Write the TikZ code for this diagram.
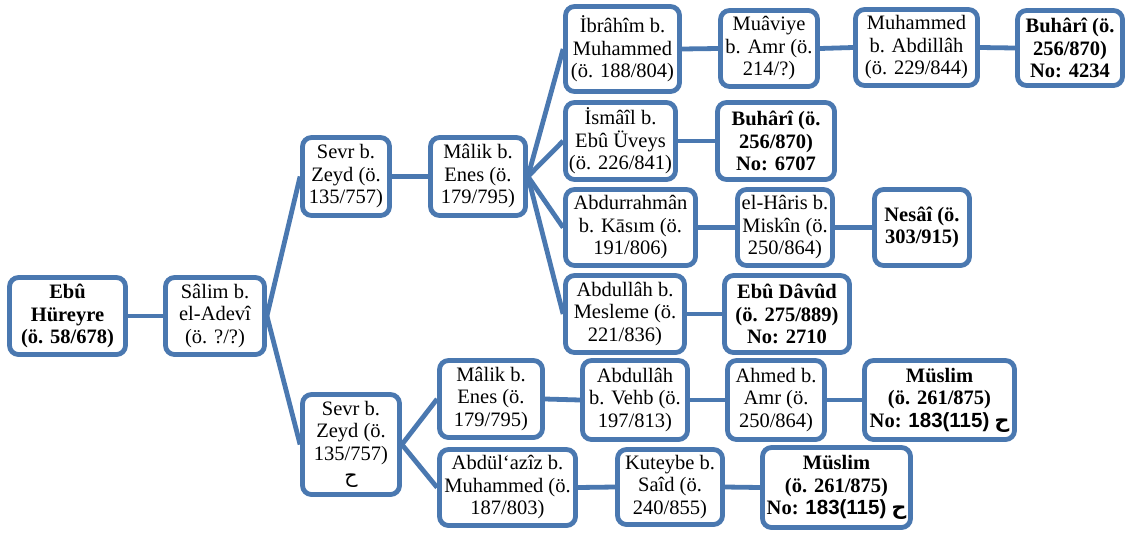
\documentclass[tikz,border=0pt]{standalone}
\usepackage{fontspec}
\setmainfont{Liberation Serif}
\newfontfamily\arsans{Liberation Sans}
\newfontfamily\arabicfont[Script=Arabic]{DejaVu Sans}
\TeXXeTstate=1
\usetikzlibrary{backgrounds}
\definecolor{bl}{RGB}{74,120,176}
\newcommand{\boxfont}{\fontsize{20.5}{22.5}\selectfont}
\newcommand{\hha}{{\arabicfont\beginR ح\endR}}
\tikzset{
  box/.style={draw=bl, line width=4.8pt, rounded corners=9pt, fill=white, align=center, inner sep=0pt, font=\boxfont},
  bbox/.style={box, font=\boxfont\bfseries},
  conn/.style={draw=bl, line width=4.8pt},
}
\begin{document}
\begin{tikzpicture}[x=1pt,y=1pt]
\useasboundingbox (0,0) rectangle (1129,-533);
% nodes
\node[bbox, minimum width=116, minimum height=77] (heb) at (67.5,-316) {Ebû\\Hüreyre\\(ö. 58/678)};
\node[box, minimum width=99, minimum height=77] (salim) at (215,-316) {Sâlim b.\\el-Adevî\\(ö. ?/?)};
\node[box, minimum width=87, minimum height=78] (sevr1) at (346,-176.5) {Sevr b.\\Zeyd (ö.\\135/757)};
\node[box, minimum width=95, minimum height=78] (malik1) at (478,-176.5) {Mâlik b.\\Enes (ö.\\179/795)};
\node[box, minimum width=114, minimum height=85] (ibr) at (622.5,-49) {İbrâhîm b.\\Muhammed\\(ö. 188/804)};
\node[box, minimum width=97, minimum height=76] (muav) at (769,-48.5) {Muâviye\\b. Amr (ö.\\214/?)};
\node[box, minimum width=122, minimum height=76] (muhabd) at (916.5,-47.5) {Muhammed\\b. Abdillâh\\(ö. 229/844)};
\node[bbox, minimum width=105, minimum height=75] (buh1) at (1070,-48) {Buhârî (ö.\\256/870)\\No: 4234};
\node[box, minimum width=110, minimum height=77] (ism) at (620.5,-141) {İsmâîl b.\\Ebû Üveys\\(ö. 226/841)};
\node[bbox, minimum width=117, minimum height=77] (buh2) at (776,-141) {Buhârî (ö.\\256/870)\\No: 6707};
\node[box, minimum width=130, minimum height=76] (abdurr) at (630.5,-227.5) {Abdurrahmân\\b. Kāsım (ö.\\191/806)};
\node[box, minimum width=95, minimum height=76] (haris) at (785,-227.5) {el-Hâris b.\\Miskîn (ö.\\250/864)};
\node[bbox, minimum width=95, minimum height=76] (nesai) at (922,-227.5) {Nesâî (ö.\\303/915)};
\node[box, minimum width=119, minimum height=77] (mesleme) at (625,-314) {Abdullâh b.\\Mesleme (ö.\\221/836)};
\node[bbox, minimum width=125, minimum height=77] (davud) at (787,-314) {Ebû Dâvûd\\(ö. 275/889)\\No: 2710};
\node[box, minimum width=97, minimum height=100] (sevr2) at (351,-444.5) {Sevr b.\\Zeyd (ö.\\135/757)\\\hha};
\node[box, minimum width=103, minimum height=77] (malik2) at (491,-399) {Mâlik b.\\Enes (ö.\\179/795)};
\node[box, minimum width=136, minimum height=76] (azz) at (507.5,-487.5) {Abdül‘azîz b.\\Muhammed (ö.\\187/803)};
\node[box, minimum width=105, minimum height=79] (vehb) at (635,-400) {Abdullâh\\b. Vehb (ö.\\197/813)};
\node[box, minimum width=97, minimum height=79] (ahmed) at (776,-400) {Ahmed b.\\Amr (ö.\\250/864)};
\node[bbox, minimum width=150, minimum height=79] (muslim1) at (939.5,-400) {Müslim\\(ö. 261/875)\\No: {\arsans 183(115)} \hha};
\node[box, minimum width=105, minimum height=75] (kuteybe) at (670,-487) {Kuteybe b.\\Saîd (ö.\\240/855)};
\node[bbox, minimum width=148, minimum height=80] (muslim2) at (836.5,-487.5) {Müslim\\(ö. 261/875)\\No: {\arsans 183(115)} \hha};
% connectors
\begin{scope}[on background layer]
\draw[conn] (heb.east) -- (salim.west);
\draw[conn] (salim.east) -- (sevr1.west);
\draw[conn] (salim.east) -- (sevr2.west);
\draw[conn] (sevr1.east) -- (malik1.west);
\draw[conn] (malik1.east) -- (ibr.west);
\draw[conn] (malik1.east) -- (ism.west);
\draw[conn] (malik1.east) -- (abdurr.west);
\draw[conn] (malik1.east) -- (mesleme.west);
\draw[conn] (ibr.east) -- (muav.west);
\draw[conn] (muav.east) -- (muhabd.west);
\draw[conn] (muhabd.east) -- (buh1.west);
\draw[conn] (ism.east) -- (buh2.west);
\draw[conn] (abdurr.east) -- (haris.west);
\draw[conn] (haris.east) -- (nesai.west);
\draw[conn] (mesleme.east) -- (davud.west);
\draw[conn] (sevr2.east) -- (malik2.west);
\draw[conn] (sevr2.east) -- (azz.west);
\draw[conn] (malik2.east) -- (vehb.west);
\draw[conn] (vehb.east) -- (ahmed.west);
\draw[conn] (ahmed.east) -- (muslim1.west);
\draw[conn] (azz.east) -- (kuteybe.west);
\draw[conn] (kuteybe.east) -- (muslim2.west);
\end{scope}
\end{tikzpicture}
\end{document}
